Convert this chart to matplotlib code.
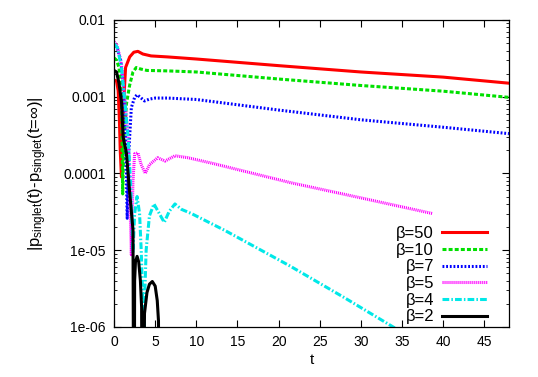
import matplotlib
matplotlib.use("Agg")
import matplotlib.pyplot as plt
from matplotlib.ticker import FixedLocator, FixedFormatter, LogLocator, NullFormatter

plt.rcParams['font.family'] = ['Liberation Sans', 'DejaVu Sans']
plt.rcParams['mathtext.fontset'] = 'custom'
plt.rcParams['mathtext.rm'] = 'Liberation Sans'
plt.rcParams['mathtext.it'] = 'Liberation Sans'

# curves; 1e-9 marks a zero crossing (goes off the log axis)
t50 = [0, 0.3, 0.5, 0.65, 0.75, 0.9, 1.05, 1.2, 1.4, 1.9, 2.4, 2.9, 3.5, 4.5, 6.5, 10, 20, 30, 40, 48]
p50 = [0.00165, 0.0016, 0.0012, 0.0005, 0.0002, 0.00009, 0.0003, 0.00096, 0.0024, 0.0033,
       0.0038, 0.0039, 0.0036, 0.0034, 0.0033, 0.0031, 0.00254, 0.0021, 0.0018, 0.0015]

t10 = [0, 0.3, 0.6, 0.9, 1.05, 1.2, 1.5, 1.9, 2.3, 2.7, 3.2, 4, 6.5, 10, 20, 30, 40, 48]
p10 = [0.0032, 0.003, 0.0024, 0.0012, 0.000054, 0.0003, 0.0008, 0.00142, 0.0021, 0.0024,
       0.0023, 0.0022, 0.00217, 0.0021, 0.0017, 0.0014, 0.00118, 0.00098]

t7 = [0, 0.4, 0.8, 1.1, 1.4, 1.6, 1.8, 2.1, 2.5, 2.8, 3.2, 3.7, 4.3, 5, 6.5, 10, 20, 30, 40, 48]
p7 = [0.0045, 0.0042, 0.003, 0.0015, 0.0003, 0.000026, 0.0002, 0.00072, 0.00098, 0.00106,
      0.00098, 0.00088, 0.00093, 0.00096, 0.00096, 0.00092, 0.00067, 0.0005, 0.0004, 0.00033]

t5 = [0, 0.4, 0.9, 1.3, 1.7, 1.9, 2.1, 2.3, 2.5, 2.9, 3.3, 3.8, 4.3, 5.3, 6.2, 7.4, 9, 12,
      21.4, 30, 38.7]
p5 = [0.0052, 0.0046, 0.0026, 0.00096, 0.0003, 0.00006, 0.0000087, 0.00008, 0.00018, 0.000185,
      0.00013, 0.0001, 0.00013, 0.00016, 0.000145, 0.00017, 0.00016, 0.000135, 0.000076,
      0.000048, 0.00003]

t4 = [0, 0.4, 0.9, 1.3, 1.7, 2.0, 2.3, 2.5, 2.8, 3.1, 3.3, 3.5, 3.6, 3.7, 3.9, 4.3, 4.85,
      5.5, 6.1, 6.7, 7.4, 8.2, 9.4, 13.5, 21.4, 28, 33.9, 35]
p4 = [0.0049, 0.0044, 0.0024, 0.0009, 0.0003, 0.00008, 0.0000093, 0.00003, 0.00005, 0.00003,
      0.00001, 0.000002, 1e-9, 0.000002, 0.00001, 0.000028, 0.00004, 0.00003, 0.000023,
      0.000032, 0.00004, 0.000034, 0.00003, 0.000018, 0.0000062, 0.0000024, 0.000001,
      0.00000085]

t2 = [0, 0.3, 0.6, 0.9, 1.1, 1.5, 1.9, 2.3, 2.43, 2.5, 2.6, 2.8, 3.0, 3.2, 3.35, 3.45,
      3.7, 4.0, 4.3, 4.65, 5.0, 5.25, 5.4, 5.5]
p2 = [0.0022, 0.0021, 0.0015, 0.00086, 0.0003, 0.000185, 0.000056, 0.0000185, 1e-9,
      0.000004, 0.000007, 0.0000083, 0.000007, 0.000004, 0.0000018, 1e-9, 0.0000015,
      0.0000028, 0.0000036, 0.0000039, 0.0000034, 0.0000022, 0.0000012, 1e-9]

fig = plt.figure(figsize=(5.38, 3.77), dpi=100)
ax = fig.add_axes([0.212, 0.133, 0.734, 0.814])

lw = 2.2
ax.plot(t50, p50, color='#ff0000', lw=lw, label='β=50')
ax.plot(t10, p10, color='#00e000', lw=lw, dashes=(1.3, 0.7), label='β=10')
ax.plot(t7, p7, color='#0000ff', lw=lw, dashes=(0.6, 0.6), label='β=7')
ax.plot(t5, p5, color='#ff00ff', lw=lw, dashes=(0.35, 0.3), label='β=5')
ax.plot(t4, p4, color='#00e8e8', lw=lw, dashes=(2.2, 0.7, 0.5, 0.7), label='β=4')
ax.plot(t2, p2, color='black', lw=lw, label='β=2')

ax.set_yscale('log')
ax.set_xlim(0, 48)
ax.set_ylim(1e-6, 1e-2)

ax.xaxis.set_major_locator(FixedLocator([0, 5, 10, 15, 20, 25, 30, 35, 40, 45]))
ax.yaxis.set_major_locator(FixedLocator([1e-6, 1e-5, 1e-4, 1e-3, 1e-2]))
ax.yaxis.set_major_formatter(FixedFormatter(['1e-06', '1e-05', '0.0001', '0.001', '0.01']))
ax.yaxis.set_minor_locator(LogLocator(base=10, subs=(2, 3, 4, 5, 6, 7, 8, 9)))
ax.yaxis.set_minor_formatter(NullFormatter())

ax.tick_params(which='both', direction='in', top=True, right=True, labelsize=10, pad=6)
ax.tick_params(which='major', length=5, width=0.8)
ax.tick_params(which='minor', length=2.5, width=0.6)
for s in ax.spines.values():
    s.set_linewidth(0.9)

ax.set_xlabel('t', fontsize=11, labelpad=3)
ax.set_ylabel(r'$\mathrm{|p_{singlet}(t)\text{-}p_{singlet}(t\text{=}\infty)|}$', fontsize=12, labelpad=10)

ax.legend(loc='lower right', bbox_to_anchor=(0.975, -0.03), frameon=False, markerfirst=False,
          fontsize=12, handlelength=2.7, labelspacing=0.1, borderaxespad=0.3, handletextpad=0.5)

fig.savefig('out.png', dpi=100)
